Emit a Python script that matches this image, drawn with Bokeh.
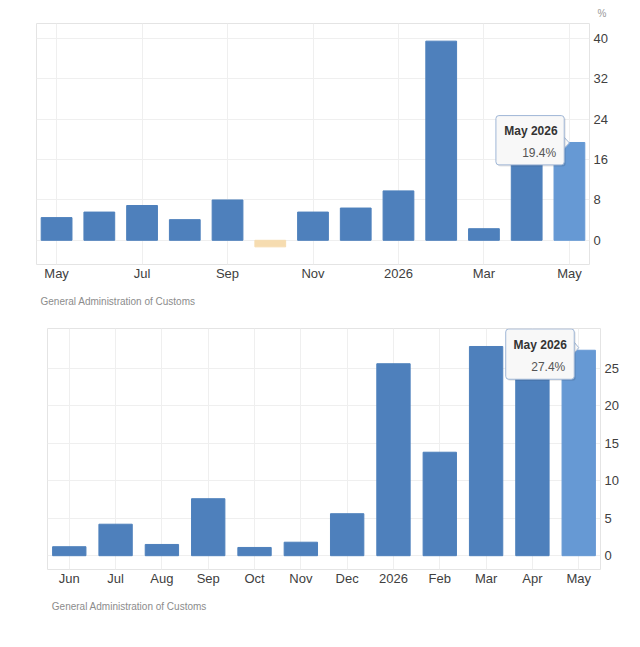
from bokeh.plotting import figure
from bokeh.models import FixedTicker, Label, BoxAnnotation, Range1d, Title
from bokeh.embed import file_html
from bokeh.resources import INLINE

SOURCE = "General Administration of Customs"
UNIT = "%"

# ---- top chart data ----
top_months = ["May", "Jun", "Jul", "Aug", "Sep", "Oct", "Nov", "Dec", "2026", "Feb", "Mar", "Apr", "May"]
top_values = [4.5, 5.6, 6.9, 4.1, 8.0, -1.3, 5.6, 6.4, 9.8, 39.5, 2.3, 15.0, 19.4]
top_yticks = [0, 8, 16, 24, 32, 40]
top_label_step = 2
top_tip_title = "May 2026"

# ---- bottom chart data ----
bot_months = ["Jun", "Jul", "Aug", "Sep", "Oct", "Nov", "Dec", "2026", "Feb", "Mar", "Apr", "May"]
bot_values = [1.2, 4.2, 1.5, 7.6, 1.1, 1.8, 5.6, 25.6, 13.8, 27.9, 24.5, 27.4]
bot_yticks = [0, 5, 10, 15, 20, 25]
bot_label_step = 1
bot_tip_title = "May 2026"

BLUE = "#4e80bc"
LAST = "#6699d4"
NEG = "#f6dcb0"
FONT = "Liberation Sans"


def make_chart(months, values, yticks, step, tip_title, cfg, unit=None):
    W, H = 640, cfg["height"]
    L, R, T, B = cfg["left"], cfg["right"], cfg["top"], cfg["bottom"]
    n = len(values)
    x0, x1 = -0.47, n - 1 + 0.47
    y0, y1 = cfg["ylim"]
    p = figure(width=W, height=H, output_backend="svg", toolbar_location=None,
               x_range=Range1d(x0, x1), y_range=Range1d(y0, y1),
               y_axis_location="right",
               min_border_left=L, min_border_right=R, min_border_top=T, min_border_bottom=B)
    p.background_fill_color = "white"
    p.border_fill_color = "white"
    p.outline_line_color = "#e4e4e4"

    xs = list(range(n))
    colors = [NEG if v < 0 else BLUE for v in values]
    colors[-1] = LAST
    p.vbar(x=xs, top=values, bottom=0, width=0.72, fill_color=colors, line_color=colors)

    p.xaxis.ticker = FixedTicker(ticks=list(range(0, n, step)))
    p.xaxis.major_label_overrides = {i: months[i] for i in range(0, n, step)}
    p.yaxis.ticker = FixedTicker(ticks=yticks)
    for ax in (p.xaxis, p.yaxis):
        ax.axis_line_color = None
        ax.major_tick_line_color = None
        ax.minor_tick_line_color = None
        ax.major_tick_out = 0
        ax.major_label_text_font = FONT
        ax.major_label_text_font_size = "13px"
        ax.major_label_text_color = "#404040"
    p.xaxis.major_label_standoff = 1
    p.yaxis.major_label_standoff = 4
    p.xgrid.grid_line_color = "#efefef"
    p.ygrid.grid_line_color = "#efefef"

    # source note
    p.add_layout(Title(text=SOURCE, align="left", offset=cfg["src_dx"], standoff=cfg["src_standoff"],
                       text_font=FONT, text_font_size="10px", text_font_style="normal",
                       text_color="#8c8c8c"), "below")
    if unit:
        p.add_layout(Title(text=unit, align="right", offset=-17, standoff=10,
                           text_font=FONT, text_font_size="10px", text_font_style="normal",
                           text_color="#999999"), "above")

    # tooltip anchored at last bar
    fw, fh = W - L - R, H - T - B
    ux = (x1 - x0) / fw
    uy = (y1 - y0) / fh
    ax_, ay_ = n - 1, values[-1]
    tl, tr, tt, tb = cfg["tip_box"]  # px offsets: left, right, top, bottom (down positive)

    def X(px):
        return ax_ + px * ux

    def Y(px):
        return ay_ - px * uy

    shadow = BoxAnnotation(left=X(tl + 1.5), right=X(tr + 1.5), top=Y(tt + 1.5), bottom=Y(tb + 1.5),
                           fill_color="black", fill_alpha=0.10, line_color=None, border_radius=3,
                           level="overlay")
    p.add_layout(shadow)
    tip_y = cfg["tip_tip_y"]
    p.patch(x=[X(tr - 0.5), X(0), X(tr - 0.5)], y=[Y(tip_y - 6), Y(tip_y), Y(tip_y + 6)],
            fill_color="#f8f8f8", line_color="#9fb6d6", line_width=1, level="overlay")
    box = BoxAnnotation(left=X(tl), right=X(tr), top=Y(tt), bottom=Y(tb),
                        fill_color="#f8f8f8", fill_alpha=1.0, line_color="#9fb6d6",
                        line_width=1, line_alpha=1.0, border_radius=3, level="overlay")
    p.add_layout(box)
    tx_l, tx_r, ty_title, ty_line, ty_val = cfg["tip_text"]
    p.segment(x0=[X(tx_l)], y0=[Y(ty_line)], x1=[X(tx_r)], y1=[Y(ty_line)],
              line_color="#b0b0b0", line_width=1, level="overlay")
    p.add_layout(Label(x=ax_, y=ay_, x_offset=tx_l, y_offset=-ty_title, text=tip_title,
                       text_font=FONT, text_font_size="12px", text_font_style="bold",
                       text_color="#333333", text_baseline="middle", text_align="left",
                       level="overlay"))
    p.add_layout(Label(x=ax_, y=ay_, x_offset=tx_r, y_offset=-ty_val, text=f"{values[-1]}%",
                       text_font=FONT, text_font_size="12px",
                       text_color="#555555", text_baseline="middle", text_align="right",
                       level="overlay"))
    return p


top_cfg = dict(height=320, left=36, right=51, top=23, bottom=56, ylim=(-4.8, 43.0),
               src_dx=4, src_standoff=20,
               tip_box=(-73.5, -5.2, -26.9, 22.4), tip_tip_y=0.4,
               tip_text=(-65.2, -13.2, -11.2, -2.6, 10.8))
bot_cfg = dict(height=327, left=47, right=40, top=8, bottom=78, ylim=(-1.84, 30.3),
               src_dx=4.3, src_standoff=20,
               tip_box=(-73.0, -4.5, -21.3, 29.0), tip_tip_y=-2.6,
               tip_text=(-65.2, -13.5, -5.3, 3.0, 16.4))

p1 = make_chart(top_months, top_values, top_yticks, top_label_step, top_tip_title, top_cfg, unit=UNIT)
p2 = make_chart(bot_months, bot_values, bot_yticks, bot_label_step, bot_tip_title, bot_cfg)

open("out.html", "w").write(file_html([p1, p2], INLINE))
